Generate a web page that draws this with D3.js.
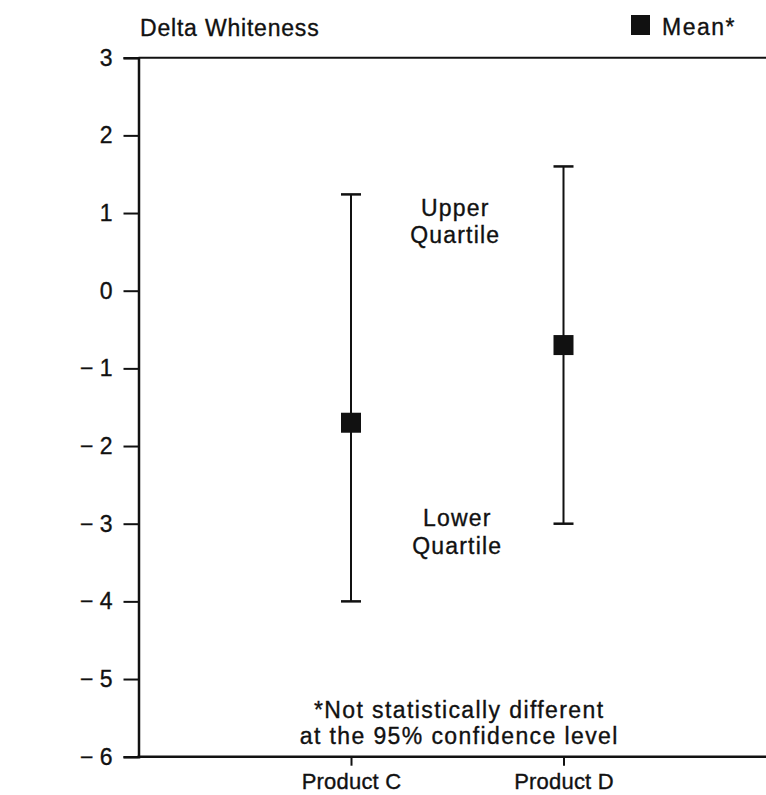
<!DOCTYPE html>
<html>
<head>
<meta charset="utf-8">
<script src="https://cdn.jsdelivr.net/npm/d3@7"></script>
<style>
  html, body { margin: 0; padding: 0; background: #fff; }
  svg { display: block; }
  text { font-family: "Liberation Sans", Arial, Helvetica, sans-serif; fill: #111; stroke: #111; stroke-width: 0.35px; }
</style>
</head>
<body>
<svg id="chart" width="766" height="795"></svg>
<script>
// ---- data ----
const products = ["Product C", "Product D"];
const means = [-1.7, -0.7];
const upperQuartile = [1.24, 1.6];
const lowerQuartile = [-4.0, -3.0];
const yTicks = [3, 2, 1, 0, -1, -2, -3, -4, -5, -6];
const yTitle = "Delta Whiteness";
const legendLabel = "Mean*";
const footnote = ["*Not statistically different", "at the 95% confidence level"];

// ---- drawing ----
(function () {
const svg = d3.select("#chart");
const W = 766;
const mLeft = 138.5, mTop = 57.7, mBottom = 756.7;
const ink = "#111";
const FONT = "'Liberation Sans', Arial, sans-serif";

const y = d3.scaleLinear().domain([-6, 3]).range([mBottom, mTop]);
const x = d3.scalePoint().domain(products).range([mLeft, 776]).padding(1);

// y axis
const yAxis = d3.axisLeft(y).tickValues(yTicks).tickSize(15).tickPadding(11)
  .tickFormat(d => d < 0 ? "\u2212 " + Math.abs(d) : String(d));
const gy = svg.append("g").attr("transform", `translate(${mLeft},0)`).call(yAxis);
gy.select(".domain").attr("stroke", ink).attr("stroke-width", 2.5);
gy.selectAll(".tick line").attr("stroke", ink).attr("stroke-width", 2);
gy.selectAll(".tick text").style("font-size", "23px").attr("fill", ink)
  .style("font-family", FONT);

// top border
svg.append("line").attr("x1", mLeft).attr("x2", W).attr("y1", y(3)).attr("y2", y(3))
  .attr("stroke", ink).attr("stroke-width", 2);

// x axis
const xAxis = d3.axisBottom(x).tickSize(9).tickPadding(7.5);
const gx = svg.append("g").attr("transform", `translate(0,${mBottom})`).call(xAxis);
gx.select(".domain").remove();
gx.selectAll(".tick line").attr("stroke", ink).attr("stroke-width", 2);
gx.selectAll(".tick text").style("font-size", "22px").attr("fill", ink)
  .style("font-family", FONT).style("letter-spacing", "0.2px");
svg.append("line").attr("x1", mLeft - 1).attr("x2", W).attr("y1", mBottom).attr("y2", mBottom)
  .attr("stroke", ink).attr("stroke-width", 2.5);

// error bars
const rows = products.map((p, i) => ({ p, m: means[i], hi: upperQuartile[i], lo: lowerQuartile[i] }));
const g = svg.append("g");
g.selectAll("line.stem").data(rows).join("line").attr("class", "stem")
  .attr("x1", d => x(d.p)).attr("x2", d => x(d.p))
  .attr("y1", d => y(d.hi)).attr("y2", d => y(d.lo))
  .attr("stroke", ink).attr("stroke-width", 2);
const capW = 10;
["hi", "lo"].forEach(k => {
  g.selectAll("line.cap-" + k).data(rows).join("line").attr("class", "cap-" + k)
    .attr("x1", d => x(d.p) - capW).attr("x2", d => x(d.p) + capW)
    .attr("y1", d => y(d[k])).attr("y2", d => y(d[k]))
    .attr("stroke", ink).attr("stroke-width", 2.5);
});
const ms = 20;
g.selectAll("rect.mean").data(rows).join("rect").attr("class", "mean")
  .attr("x", d => x(d.p) - ms / 2).attr("y", d => y(d.m) - ms / 2)
  .attr("width", ms).attr("height", ms).attr("fill", ink);

// quartile labels
const midX = (x(products[0]) + x(products[1])) / 2;
const ann = svg.append("g").attr("text-anchor", "middle")
  .style("font-size", "23px").style("letter-spacing", "1.2px");
ann.append("text").attr("x", midX - 2).attr("y", 216).text("Upper");
ann.append("text").attr("x", midX - 2).attr("y", 243).text("Quartile");
ann.append("text").attr("x", midX).attr("y", 526).text("Lower");
ann.append("text").attr("x", midX).attr("y", 554).text("Quartile");

// footnote
footnote.forEach((t, i) => {
  svg.append("text").attr("x", midX + 2).attr("y", 718 + i * 26)
    .attr("text-anchor", "middle").style("font-size", "23px")
    .style("letter-spacing", "1.4px").text(t);
});

// y title
svg.append("text").attr("x", 140).attr("y", 36).style("font-size", "23px")
  .style("letter-spacing", "0.8px").text(yTitle);

// legend
svg.append("rect").attr("x", 631).attr("y", 15).attr("width", 19).attr("height", 20).attr("fill", ink);
svg.append("text").attr("x", 662).attr("y", 35).style("font-size", "23px")
  .style("letter-spacing", "1.5px").text(legendLabel);
})();
</script>
</body>
</html>
